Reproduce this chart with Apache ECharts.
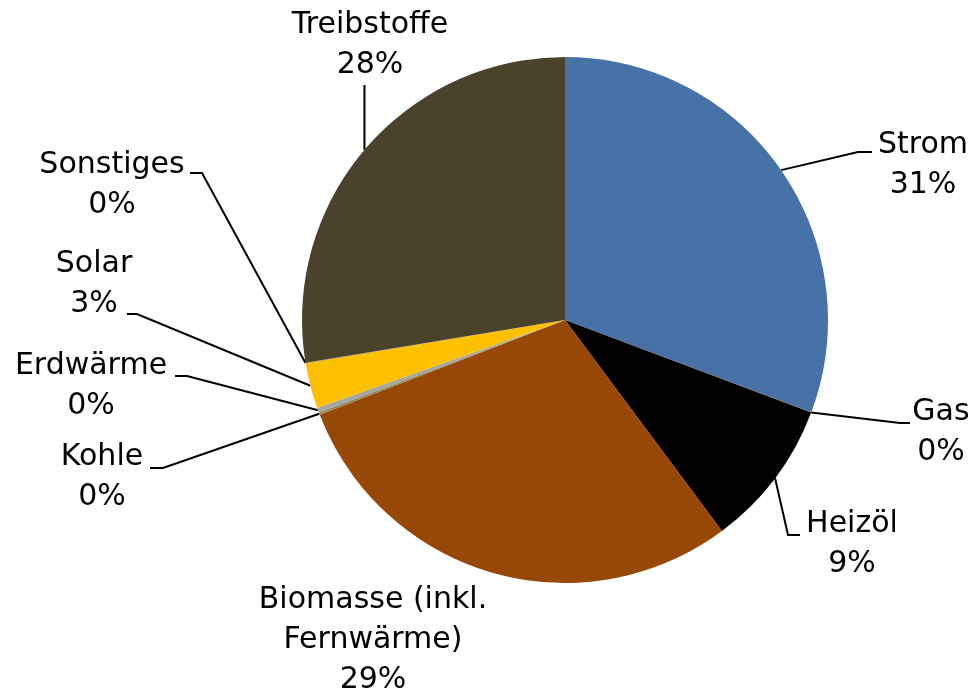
<!DOCTYPE html>
<html>
<head>
<meta charset="utf-8">
<script src="https://cdn.jsdelivr.net/npm/echarts@6/dist/echarts.min.js"></script>
<style>
  html, body { margin: 0; padding: 0; background: #fff; }
  #chart { width: 975px; height: 695px; }
</style>
</head>
<body>
<div id="chart"></div>
<script>
// Anteile in Prozent, im Uhrzeigersinn ab 12 Uhr
const categories = ['Strom', 'Gas', 'Heizöl', 'Biomasse (inkl. Fernwärme)', 'Kohle', 'Erdwärme', 'Solar', 'Sonstiges', 'Treibstoffe'];
const shares = [30.7, 0.02, 9.1, 29.3, 0.15, 0.3, 2.8, 0.02, 27.6];
const colors = ['#4672a8', '#c0504d', '#000000', '#974706', '#948a54', '#a5a5a5', '#ffc000', '#7f7f7f', '#4a422b'];

// Lage der Beschriftungen (Mitte) und Knickpunkte der Führungslinien
const labelPos = [[923, 165], [941, 432], [852, 544], [373, 640], [102, 477], [91, 386], [94, 284], [112, 185], [370, 45]];
const guide = [
  [[858, 152], [872, 152]],
  [[900, 423], [910, 423]],
  [[788, 535], [800, 535]],
  null,
  [[163, 468], [150, 468]],
  [[187, 376], [175, 376]],
  [[137, 314], [127, 314]],
  [[202, 173], [190, 173]],
  'up'
];

const chart = echarts.init(document.getElementById('chart'));

const option = {
  animation: false,
  color: colors,
  series: [{
    type: 'pie',
    center: [565, 320],
    radius: 263,
    startAngle: 90,
    clockwise: true,
    avoidLabelOverlap: false,
    itemStyle: { borderWidth: 0 },
    label: {
      show: true,
      position: 'outside',
      color: '#000',
      fontFamily: 'DejaVu Sans',
      fontSize: 30,
      lineHeight: 40,
      align: 'center',
      formatter: function (p) {
        return p.name.replace(' Fernwärme', '\nFernwärme') + '\n' + Math.round(p.percent) + '%';
      }
    },
    labelLine: {
      show: true,
      lineStyle: { color: '#000', width: 2 }
    },
    labelLayout: function (p) {
      const i = p.dataIndex;
      const res = {
        x: labelPos[i][0],
        y: labelPos[i][1],
        align: 'center',
        verticalAlign: 'middle',
        hideOverlap: false
      };
      const p0 = p.labelLinePoints ? p.labelLinePoints[0] : null;
      if (p0 && guide[i] === 'up') {
        res.labelLinePoints = [p0, [p0[0], 85]];
      } else if (p0 && guide[i]) {
        res.labelLinePoints = [p0, guide[i][0], guide[i][1]];
      }
      return res;
    },
    data: categories.map(function (name, i) {
      const d = { name: name, value: shares[i] };
      if (guide[i] === null) d.labelLine = { show: false };
      return d;
    })
  }]
};

chart.setOption(option);
window.addEventListener('resize', function () { chart && chart.resize(); });
</script>
</body>
</html>
